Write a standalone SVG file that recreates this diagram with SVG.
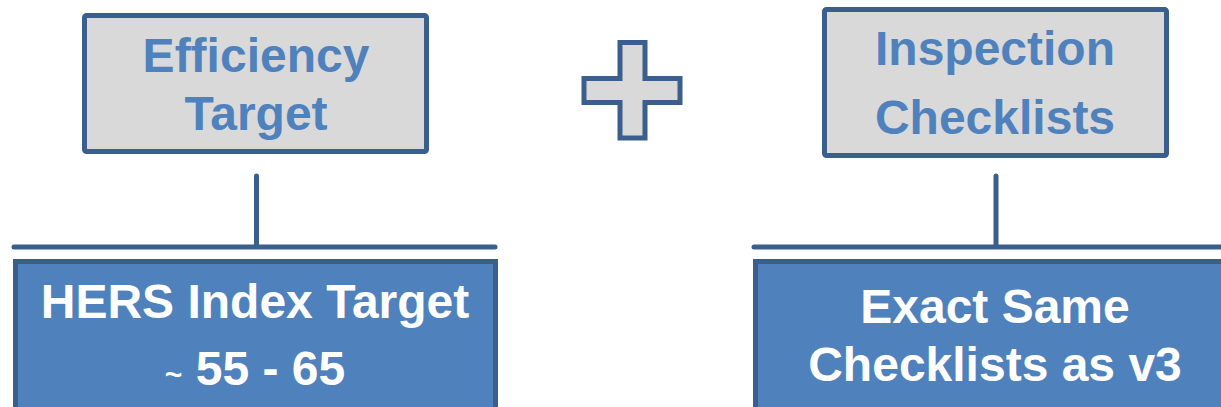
<svg xmlns="http://www.w3.org/2000/svg" width="1221" height="407" viewBox="0 0 1221 407">
<style>
.top{fill:#d9d9d9;stroke:#3a5f8d;stroke-width:5}
.bot{fill:#4f81bd;stroke:#3a5f8d;stroke-width:5}
.conn{stroke:#3a5f8d;stroke-width:5;fill:none;stroke-linecap:round}
.tt{font-family:"Liberation Sans",Arial,sans-serif;font-weight:bold;font-size:48px;fill:#4f81bd;text-anchor:middle}
.bt{font-family:"Liberation Sans",Arial,sans-serif;font-weight:bold;font-size:48px;fill:#ffffff;text-anchor:middle}
</style>
<rect width="1221" height="407" fill="#ffffff"/>
<g id="connectors">
<line class="conn" x1="256.5" y1="176" x2="256.5" y2="246"/>
<line class="conn" x1="14" y1="247" x2="495" y2="247"/>
<line class="conn" x1="996" y1="176" x2="996" y2="246"/>
<line class="conn" x1="754" y1="247" x2="1225" y2="247"/>
</g>
<g id="efficiency">
<rect class="top" x="84.5" y="15.5" width="342" height="136" rx="2"/>
<text class="tt" x="256" y="72">Efficiency</text>
<text class="tt" x="256" y="130">Target</text>
</g>
<g id="plus">
<polygon class="top" points="620,42.5 645,42.5 645,78.5 680,78.5 680,102.5 645,102.5 645,138 620,138 620,102.5 584,102.5 584,78.5 620,78.5"/>
</g>
<g id="inspection">
<rect class="top" x="824.5" y="9.5" width="342" height="146" rx="2"/>
<text class="tt" x="995" y="65">Inspection</text>
<text class="tt" x="995" y="134">Checklists</text>
</g>
<g id="hers">
<rect class="bot" x="15.5" y="261.5" width="480" height="160"/>
<text class="bt" x="255" y="318">HERS Index Target</text>
<text class="bt" x="255" y="385"><tspan font-size="30">~</tspan> 55 - 65</text>
</g>
<g id="exact">
<rect class="bot" x="755.5" y="261.5" width="500" height="160"/>
<text class="bt" x="995" y="323">Exact Same</text>
<text class="bt" x="995" y="381">Checklists as v3</text>
</g>
</svg>
